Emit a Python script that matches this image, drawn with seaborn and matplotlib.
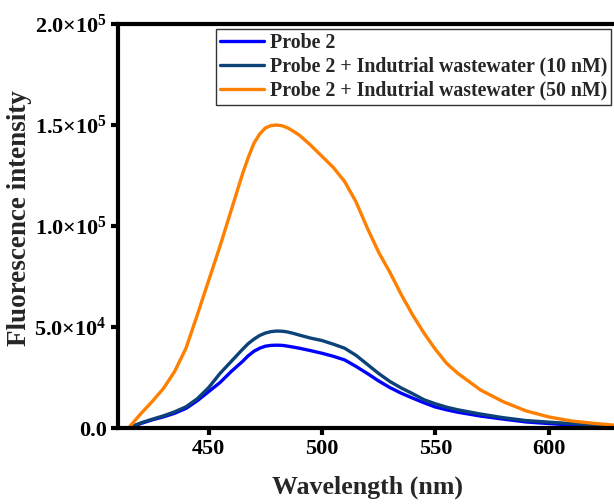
import numpy as np
import pandas as pd
import matplotlib
matplotlib.use("Agg")
import matplotlib.pyplot as plt
import seaborn as sns

# Emission spectra (fluorescence intensity vs wavelength)
wavelength = [415, 420, 425, 430, 435, 440, 445, 450, 455, 460, 465, 467.5, 470,
              472.5, 475, 477.5, 480, 482.5, 485, 487.5, 490, 495, 500, 505, 510,
              515, 520, 525, 530, 535, 540, 545, 550, 555, 560, 570, 580, 590,
              600, 610, 620, 630]

probe2 = [0, 2.2e3, 4.0e3, 5.5e3, 7.3e3, 9.7e3, 13.5e3, 18.0e3, 22.5e3, 28.0e3,
          33.0e3, 35.8e3, 38.0e3, 39.5e3, 40.5e3, 40.9e3, 41.0e3, 40.9e3, 40.5e3,
          40.0e3, 39.5e3, 38.3e3, 37.0e3, 35.5e3, 33.7e3, 30.5e3, 27.0e3, 23.3e3,
          20.0e3, 17.2e3, 14.8e3, 12.5e3, 10.4e3, 9.0e3, 7.8e3, 5.9e3, 4.4e3,
          3.0e3, 2.2e3, 1.5e3, 1.0e3, 0.5e3]

probe2_10nM = [0.3e3, 2.5e3, 4.3e3, 6.0e3, 8.0e3, 10.5e3, 14.5e3, 20.0e3, 27.0e3,
               33.0e3, 39.0e3, 41.8e3, 44.0e3, 45.8e3, 47.0e3, 47.7e3, 48.0e3,
               47.9e3, 47.5e3, 46.8e3, 46.0e3, 44.5e3, 43.3e3, 41.5e3, 39.5e3,
               36.0e3, 31.5e3, 27.0e3, 23.0e3, 19.8e3, 17.0e3, 14.0e3, 12.0e3,
               10.3e3, 9.0e3, 6.9e3, 5.1e3, 3.7e3, 2.9e3, 2.2e3, 1.5e3, 0.9e3]

probe2_50nM = [0.5e3, 7.0e3, 13.0e3, 19.5e3, 28.0e3, 39.5e3, 56.0e3, 73.0e3,
               90.0e3, 108.0e3, 126.0e3, 134.0e3, 141.0e3, 145.5e3, 148.5e3,
               149.7e3, 150.0e3, 149.6e3, 148.5e3, 146.8e3, 145.0e3, 140.0e3,
               134.5e3, 129.0e3, 122.0e3, 112.0e3, 99.0e3, 87.0e3, 77.0e3, 66.0e3,
               56.0e3, 47.0e3, 39.0e3, 32.0e3, 27.0e3, 18.8e3, 13.0e3, 8.5e3,
               5.5e3, 3.5e3, 2.3e3, 1.3e3]

series_names = ["Probe 2",
                "Probe 2 + Indutrial wastewater (10 nM)",
                "Probe 2 + Indutrial wastewater (50 nM)"]
series_colors = ["#0000FF", "#0C4278", "#FF8000"]

y_ticks = [0, 5e4, 1e5, 1.5e5, 2e5]
y_tick_labels = ["0.0", r"5.0$\times$10$^{4}$", r"1.0$\times$10$^{5}$",
                 r"1.5$\times$10$^{5}$", r"2.0$\times$10$^{5}$"]
x_ticks = [450, 500, 550, 600]

df = pd.concat([
    pd.DataFrame({"Wavelength": wavelength, "Intensity": vals, "Sample": name})
    for name, vals in zip(series_names, [probe2, probe2_10nM, probe2_50nM])
], ignore_index=True)

sns.set_style("ticks")
plt.rcParams["font.family"] = ["Liberation Serif", "DejaVu Serif"]
plt.rcParams["font.weight"] = "bold"
plt.rcParams["mathtext.fontset"] = "custom"
plt.rcParams["mathtext.rm"] = "Liberation Serif:bold"
plt.rcParams["mathtext.it"] = "Liberation Serif:bold"
plt.rcParams["mathtext.bf"] = "Liberation Serif:bold"
plt.rcParams["mathtext.default"] = "rm"

fig = plt.figure(figsize=(6.14, 5.04), dpi=100)
ax = fig.add_axes([118 / 614, 1 - 428 / 504, 498.6 / 614, 404 / 504])

sns.lineplot(data=df, x="Wavelength", y="Intensity", hue="Sample",
             hue_order=series_names, palette=series_colors,
             linewidth=2.4, ax=ax, legend=True)

ax.set_xlim(410, 630)
ax.set_ylim(0, 2e5)
ax.set_xticks(x_ticks)
ax.set_xticklabels([str(t) for t in x_ticks])
ax.set_yticks(y_ticks)
ax.set_yticklabels(y_tick_labels)

for side in ["left", "bottom", "top", "right"]:
    ax.spines[side].set_linewidth(3)
    ax.spines[side].set_color("black")

ax.tick_params(axis="both", direction="out", length=5, width=3,
               labelsize=16, colors="black", pad=3)
for lab in ax.get_xticklabels() + ax.get_yticklabels():
    lab.set_fontweight("bold")

ax.set_xlabel("Wavelength (nm)", fontsize=18.6, fontweight="bold")
ax.set_ylabel("Fluorescence intensity", fontsize=19.5, fontweight="bold")
ax.xaxis.set_label_coords(0.5, -0.118)
ax.yaxis.set_label_coords(-0.173, 0.52)

handles, labels = ax.get_legend_handles_labels()
ax.legend(handles, labels, loc="upper left",
          bbox_to_anchor=(216 / 614, 1 - 29 / 504),
          bbox_transform=fig.transFigure,
          prop={"family": "Liberation Serif", "weight": "bold", "size": 14.3},
          frameon=True, fancybox=False, edgecolor="#333333", framealpha=1,
          borderpad=0.2, labelspacing=0.2, handlelength=2.2,
          handletextpad=0.3, borderaxespad=0)
ax.get_legend().get_frame().set_linewidth(1)

fig.savefig("out.png", dpi=100)
